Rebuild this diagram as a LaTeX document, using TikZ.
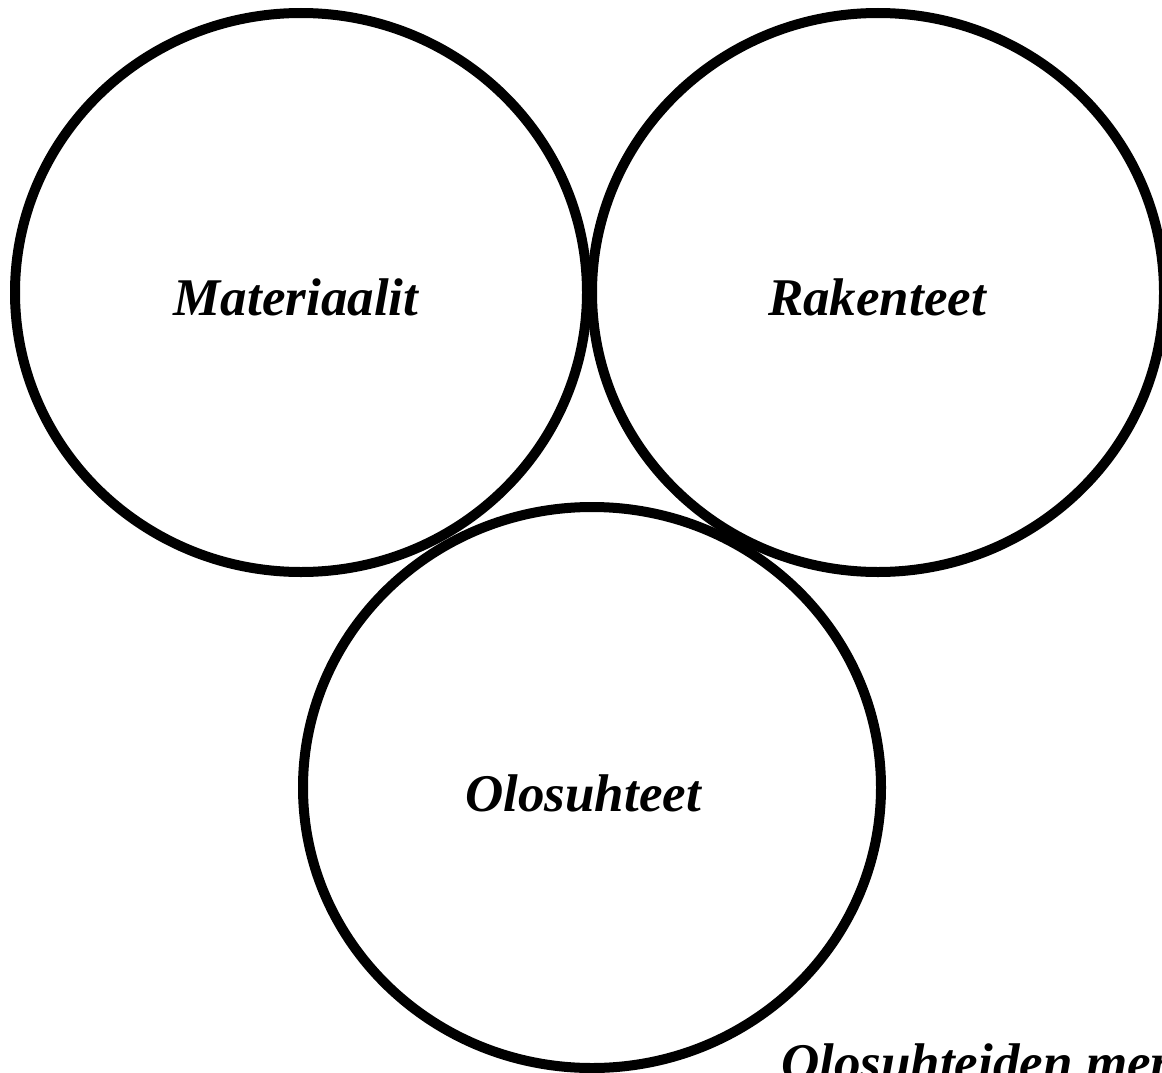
\documentclass[tikz,border=0pt]{standalone}
\usepackage{fontspec}
\setmainfont{Liberation Serif}
\usetikzlibrary{shapes.geometric}
\begin{document}
\begin{tikzpicture}[x=1pt,y=-1pt,
  circ/.style={draw=black,line width=10pt,ellipse,inner sep=0pt,fill=none},
  lbl/.style={font=\fontsize{53}{60}\selectfont\bfseries\itshape,anchor=base,inner sep=0pt}]
\useasboundingbox (0,0) rectangle (1162,1073);
\clip (0,0) rectangle (1162,1073);
\node[circ,minimum width=572pt,minimum height=559pt] (mat) at (301,292.5) {};
\node[circ,minimum width=572pt,minimum height=559pt] (rak) at (878,292.5) {};
\node[circ,minimum width=578pt,minimum height=561pt] (olo) at (592,787.5) {};
\node[lbl] (tmat) at (296,315) {Materiaalit};
\node[lbl] (trak) at (877,315) {Rakenteet};
\node[lbl] (tolo) at (583,811) {Olosuhteet};
\node[lbl,anchor=base west] (tmer) at (781,1080) {Olosuhteiden mer};
\end{tikzpicture}
\end{document}
